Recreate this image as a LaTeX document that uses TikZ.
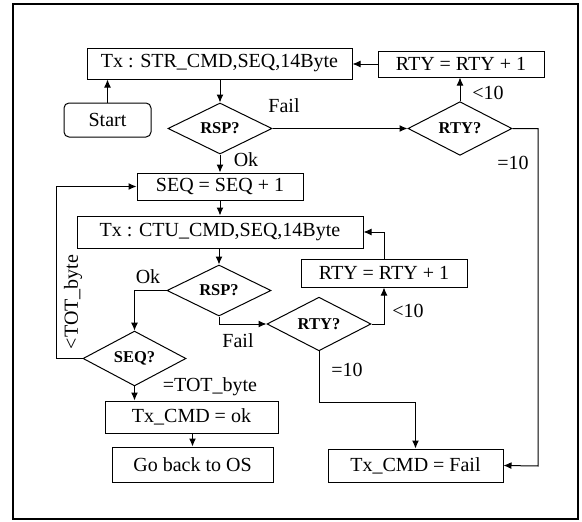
\documentclass[tikz,border=0pt]{standalone}
\usepackage{fontspec}
\setmainfont{Liberation Serif}
\usetikzlibrary{shapes.geometric,arrows.meta}
\begin{document}
\begin{tikzpicture}[x=1pt,y=-1pt,
  font=\fontsize{20}{22}\selectfont,
  stepbox/.style={draw,line width=1pt,inner sep=0pt,anchor=center},
  decision/.style={draw,diamond,line width=1pt,inner sep=0pt,minimum width=104pt,minimum height=51pt,font=\fontsize{16.5}{18}\selectfont\bfseries},
  lbl/.style={inner sep=0pt},
  conn/.style={line width=1pt},
  arr/.style={conn,-{Latex[length=8pt,width=7pt]}}]
\useasboundingbox (0,0) rectangle (582,522);
\draw[line width=2pt] (12.5,4) rectangle (577.5,519);
% nodes
\node[stepbox,minimum width=265pt,minimum height=31pt] (box1) at (219.5,63.5) {Tx : STR\_CMD,SEQ,14Byte};
\node[stepbox,minimum width=166pt,minimum height=26pt] (rtyb1) at (461,64) {RTY = RTY + 1};
\node[stepbox,rounded corners=5pt,minimum width=87pt,minimum height=34pt] (start) at (107.5,120) {Start};
\node[decision] (rsp1) at (220,128.5) {RSP?};
\node[decision] (rty1) at (460,128.5) {RTY?};
\node[stepbox,minimum width=166pt,minimum height=27pt] (seq) at (220,186.5) {SEQ = SEQ + 1};
\node[stepbox,minimum width=286pt,minimum height=32pt] (ctu) at (220,232) {Tx : CTU\_CMD,SEQ,14Byte};
\node[decision] (rsp2) at (219,290.5) {RSP?};
\node[stepbox,minimum width=166pt,minimum height=28pt] (rtyb2) at (384,273) {RTY = RTY + 1};
\node[decision] (rty2) at (319,324) {RTY?};
\node[decision,minimum width=103pt] (seqq) at (134.5,358.5) {SEQ?};
\node[stepbox,minimum width=173pt,minimum height=32pt] (ok) at (191.5,417) {Tx\_CMD = ok};
\node[stepbox,minimum width=161pt,minimum height=35pt] (goback) at (192.5,464.5) {Go back to OS};
\node[stepbox,minimum width=175pt,minimum height=33pt] (fail) at (415.5,465.5) {Tx\_CMD = Fail};
% labels
\node[lbl] (lfail1) at (284,106) {Fail};
\node[lbl] (lok1) at (246,160) {Ok};
\node[lbl] (llt1) at (488,93) {<10};
\node[lbl] (leq1) at (513,163) {=10};
\node[lbl] (lok2) at (148,277) {Ok};
\node[lbl] (lfail2) at (238,341) {Fail};
\node[lbl] (llt2) at (408,311) {<10};
\node[lbl] (leq2) at (347,370) {=10};
\node[lbl] (ltot) at (210,387) {=TOT\_byte};
\node[lbl,rotate=90] (llt) at (73,302) {<TOT\_byte};
% connectors
\coordinate (c1) at (538,466);
\draw[arr] (start.north) -- (start.north|-box1.south);
\draw[arr] (box1.south-|rsp1.north) -- (rsp1.north);
\draw[arr] (rsp1.east) -- (rty1.west);
\draw[arr] (rty1.north) -- (rty1.north|-rtyb1.south);
\draw[arr] (rtyb1.west) -- (box1.east|-rtyb1.west);
\draw[arr] (rty1.east) -| (c1) -- (fail.east);
\draw[arr] (rsp1.south) -- (rsp1.south|-seq.north);
\draw[arr] (seq.south) -- (ctu.north);
\draw[arr] (ctu.south-|rsp2.north) -- (rsp2.north);
\draw[arr] (rsp2.west) -| (seqq.north);
\draw[arr] (rsp2.south) |- (rty2.west);
\draw[arr] (rty2.east) -| (rtyb2.south);
\draw[arr] (rtyb2.north) |- (ctu.east);
\draw[arr] (rty2.south) -- ++(0,51) -| (fail.north);
\draw[arr] (seqq.west) -- ++(-26,0) |- (seq.west);
\draw[arr] (seqq.south) -- (seqq.south|-ok.north);
\draw[arr] (ok.south-|goback.north) -- (goback.north);
\end{tikzpicture}
\end{document}
